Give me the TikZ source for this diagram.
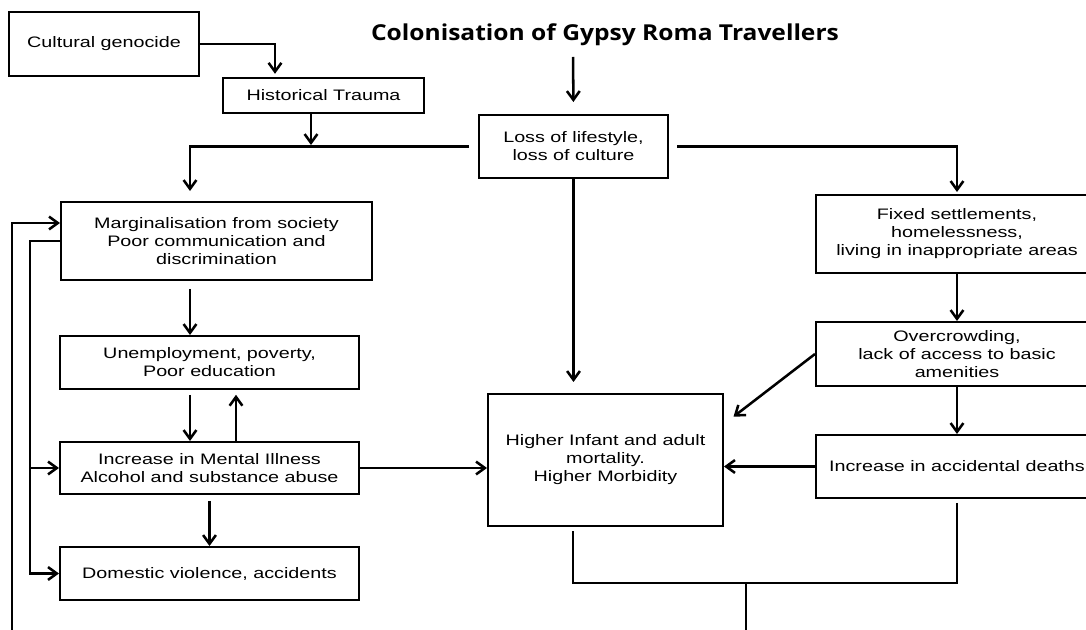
\documentclass[tikz,border=0pt]{standalone}
\usepackage{fontspec}
\setmainfont{Liberation Sans}[FakeStretch=1.3]
\newfontfamily\titlefont{Open Sans}[FakeStretch=1.12]
\usetikzlibrary{arrows.meta,calc}

\begin{document}
\begin{tikzpicture}[
    x=0.025cm, y=-0.025cm,
    every node/.style={align=center},
    box/.style={draw, line width=1.4pt, inner sep=0pt,
                font=\fontsize{10.8}{12.8}\selectfont},
    link/.style={draw, line width=1.8pt},
    arrow/.style={link, -{Straight Barb[length=0.22cm, width=0.32cm]}},
    ]
\useasboundingbox (0,0) rectangle (1086,630);
% columns where the arrows run
\coordinate (colT) at (275,0);
\coordinate (colH) at (311,0);
\coordinate (colA) at (190,0);
\coordinate (colB) at (236,0);
\coordinate (colM) at (573,0);
\coordinate (loopin) at (30,0);
\coordinate (loopend) at (12,634);
\coordinate (split) at (311,145);
\coordinate (merge) at (746,583);
\coordinate (base) at (746,634);

\node[font=\titlefont\bfseries\fontsize{15.6}{18}\selectfont] (title) at (605,35) {Colonisation of Gypsy Roma Travellers};
\node[box, minimum width=4.75cm, minimum height=1.6cm] (cult) at (104,44) {Cultural genocide};
\node[box, minimum width=5.025cm, minimum height=0.875cm] (ht) at (323.5,95.5) {Historical Trauma};
\node[box, minimum width=4.725cm, minimum height=1.575cm] (loss) at (573.5,146.5) {Loss of lifestyle,\\ loss of culture};

\node[box, minimum width=7.775cm, minimum height=1.95cm] (marg) at (216.5,241) {Marginalisation from society\\ Poor communication and\\ discrimination};
\node[box, minimum width=7.475cm, minimum height=1.325cm] (unemp) at (209.5,362.5) {Unemployment, poverty,\\ Poor education};
\node[box, minimum width=7.475cm, minimum height=1.3cm] (mental) at (209.5,468) {Increase in Mental Illness\\ Alcohol and substance abuse};
\node[box, minimum width=7.475cm, minimum height=1.325cm] (dom) at (209.5,573.5) {Domestic violence, accidents};

\node[box, minimum width=5.875cm, minimum height=3.3cm] (higher) at (605.5,460) {Higher Infant and adult\\ mortality.\\ Higher Morbidity};

\node[box, minimum width=7.05cm, minimum height=1.95cm] (fixed) at (957,234) {Fixed settlements,\\ homelessness,\\ living in inappropriate areas};
\node[box, minimum width=7.05cm, minimum height=1.6cm] (over) at (957,354) {Overcrowding,\\ lack of access to basic\\ amenities};
\node[box, minimum width=7.05cm, minimum height=1.575cm] (acc) at (957,466.5) {Increase in accidental deaths};

% top part
\draw[arrow, shorten <=0.15cm, shorten >=0.3cm] (title.south -| colM) -- (loss.north);
\draw[arrow, shorten >=0.08cm] (cult.east) -| (ht.north -| colT);
\draw[arrow] (ht.south -| colH) -- (split);
\draw[arrow, shorten <=0.22cm, shorten >=0.25cm] (loss.west) -| (marg.north -| colA);
\draw[arrow, shorten <=0.2cm, shorten >=0.05cm] (loss.east) -| (fixed.north);
\draw[arrow, shorten >=0.275cm] (loss.south) -- (loss.south |- higher.north);

% left column
\draw[arrow, shorten <=0.2cm] (marg.south -| colA) -- (unemp.north -| colA);
\draw[arrow, shorten <=0.12cm] (unemp.south -| colA) -- (mental.north -| colA);
\draw[arrow, shorten >=0.12cm] (mental.north -| colB) -- (unemp.south -| colB);
\draw[arrow, shorten <=0.15cm] (mental.south) -- (dom.north);
\draw[arrow] (loopend) |- ($(marg.west)+(0,-18)$);
\draw[arrow] (marg.west) -| (loopin |- dom.west) -- (dom.west);
\draw[arrow] (loopin |- mental.west) -- (mental.west);
\draw[arrow] (mental.east) -- (mental.east -| higher.west);

% right column
\draw[arrow] (fixed.south) -- (over.north);
\draw[arrow] (over.south) -- (acc.north);
\draw[arrow, shorten >=0.3cm] (over.west) -- ($(higher.north east)+(0,31)$);
\draw[arrow] (acc.west) -- (acc.west -| higher.east);

% bottom join
\draw[link, shorten <=0.1cm] (higher.south -| colM) |- (merge);
\draw[link, shorten <=0.1cm] (acc.south) |- (merge);
\draw[link] (merge) -- (base);
\end{tikzpicture}
\end{document}
